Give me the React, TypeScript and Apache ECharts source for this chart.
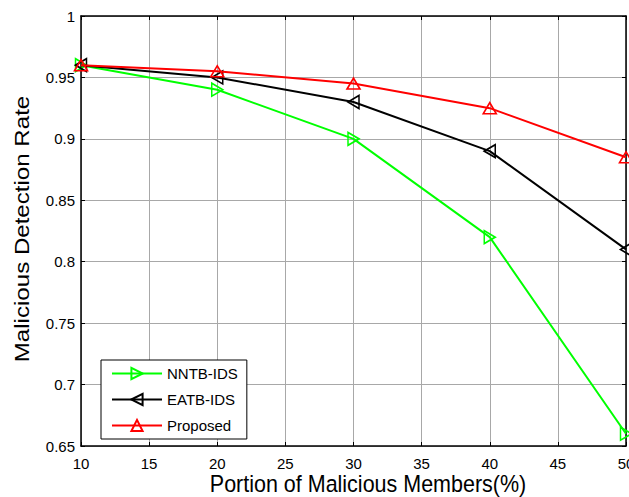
import React, { useEffect, useRef } from "react";
import * as echarts from "echarts";

const xValues = [10, 20, 30, 40, 50];
const nntbIds = [0.96, 0.94, 0.9, 0.82, 0.66];
const eatbIds = [0.96, 0.95, 0.93, 0.89, 0.81];
const proposed = [0.96, 0.955, 0.945, 0.925, 0.885];
const seriesNames = ["NNTB-IDS", "EATB-IDS", "Proposed"];
const seriesColors = ["#00ff00", "#000000", "#ff0000"];
const xTitle = "Portion of Malicious Members(%)";
const yTitle = "Malicious Detection Rate";

const FONT = "'Liberation Sans', Arial, Helvetica, sans-serif";

export default function App() {
  const ref = useRef<HTMLDivElement>(null);
  useEffect(() => {
    if (!ref.current) return;
    const chart = echarts.init(ref.current, null, { renderer: "svg" });
    const pairs = (ys: number[]) => xValues.map((x, i) => [x, ys[i]]);
    const mk = (idx: number, ys: number[], rot: number) => ({
      name: seriesNames[idx],
      type: "line",
      data: pairs(ys),
      xAxisIndex: 0,
      yAxisIndex: 0,
      symbol: "triangle",
      symbolSize: [13, 11],
      symbolRotate: rot,
      showAllSymbol: true,
      clip: false,
      lineStyle: { color: seriesColors[idx], width: 2 },
      itemStyle: { color: "rgba(255,255,255,0)", borderColor: seriesColors[idx], borderWidth: 1.6 },
      emphasis: { disabled: true },
      z: 3 + idx,
    });
    const axisCommon = {
      axisLine: { show: true, onZero: false, lineStyle: { color: "#000", width: 1.5 } },
      axisTick: { show: true, inside: true, length: 4, lineStyle: { color: "#000", width: 1 } },
    };
    chart.setOption({
      animation: false,
      backgroundColor: "#fff",
      grid: { left: 81, right: 3, top: 16, bottom: 51, containLabel: false, outerBoundsMode: "none" },
      xAxis: [
        {
          type: "value",
          min: 10,
          max: 50,
          interval: 5,
          position: "bottom",
          ...axisCommon,
          axisLabel: { color: "#000", fontSize: 15, fontFamily: FONT, margin: 10, hideOverlap: false },
          splitLine: { show: true, lineStyle: { color: "#a8a8a8", width: 1 } },
        },
        {
          type: "value",
          min: 10,
          max: 50,
          interval: 5,
          position: "top",
          ...axisCommon,
          axisLabel: { show: false },
          splitLine: { show: false },
        },
      ],
      yAxis: [
        {
          type: "value",
          min: 0.65,
          max: 1,
          interval: 0.05,
          position: "left",
          ...axisCommon,
          axisLabel: { color: "#000", fontSize: 15, fontFamily: FONT, margin: 6 },
          splitLine: { show: true, lineStyle: { color: "#a8a8a8", width: 1 } },
        },
        {
          type: "value",
          min: 0.65,
          max: 1,
          interval: 0.05,
          position: "right",
          ...axisCommon,
          axisLabel: { show: false },
          splitLine: { show: false },
        },
      ],
      legend: {
        data: seriesNames,
        orient: "vertical",
        left: 101,
        top: 360,
        itemWidth: 50,
        itemHeight: 14,
        itemGap: 11,
        padding: [6, 9, 6, 10],
        borderColor: "#000",
        borderWidth: 1,
        backgroundColor: "#fff",
        textStyle: { color: "#000", fontSize: 15, fontFamily: FONT },
        selectedMode: false,
        z: 10,
      },
      graphic: [
        {
          type: "text",
          x: 368,
          y: 484,
          scaleY: 1.08,
          style: {
            text: xTitle,
            fontSize: 21.5,
            fontFamily: FONT,
            fill: "#000",
            align: "center",
            verticalAlign: "middle",
          },
        },
        {
          type: "text",
          x: 22.5,
          y: 229,
          rotation: Math.PI / 2,
          scaleX: 1.23,
          style: {
            text: yTitle,
            fontSize: 19.6,
            fontFamily: FONT,
            fill: "#000",
            align: "center",
            verticalAlign: "middle",
          },
        },
      ],
      series: [mk(0, nntbIds, -90), mk(1, eatbIds, 90), mk(2, proposed, 0)],
    });
    return () => chart.dispose();
  }, []);
  return (
    <div
      ref={ref}
      style={{ position: "fixed", left: 0, top: 0, width: 629, height: 497 }}
    />
  );
}
